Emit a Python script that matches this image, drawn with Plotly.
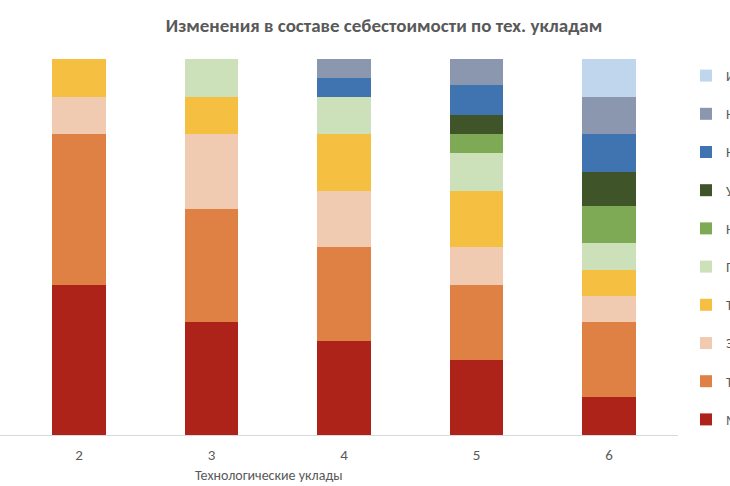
import plotly.graph_objects as go

# технологические уклады
uklady = [2, 3, 4, 5, 6]

# доли статей себестоимости, %
materialy = [40, 30, 25, 20, 10]
trud = [40, 30, 25, 20, 20]
energiya = [10, 20, 15, 10, 7]
transport = [10, 10, 15, 15, 7]
prochie = [0, 10, 10, 10, 7]
niokr = [0, 0, 0, 5, 10]
upravlenie = [0, 0, 0, 5, 9]
nematerialnye = [0, 0, 5, 8, 10]
naukoemkie = [0, 0, 5, 7, 10]
informaciya = [0, 0, 0, 0, 10]

series = [
    ("Материалы", materialy, "#AE2319"),
    ("Труд", trud, "#DF8144"),
    ("Энергия", energiya, "#F0CBB1"),
    ("Транспорт", transport, "#F5BF42"),
    ("Прочие затраты", prochie, "#CCE0BA"),
    ("НИОКР", niokr, "#7EAA56"),
    ("Услуги", upravlenie, "#3F5428"),
    ("Нематериальные активы", nematerialnye, "#3F74B0"),
    ("Наукоёмкие услуги", naukoemkie, "#8A97AE"),
    ("Информация", informaciya, "#C0D6EC"),
]

FONT = "Carlito, Liberation Sans Narrow, Roboto, sans-serif"
PLOT_H = 486 - 59 - 51

fig = go.Figure()
for i, (name, vals, color) in enumerate(series):
    fig.add_trace(go.Bar(name=name, x=uklady, y=vals, marker_color=color,
                         marker_line_width=0, width=0.405, legendgroup=str(i),
                         legendrank=100 - i))

fig.update_layout(
    width=730, height=486,
    barmode="stack",
    plot_bgcolor="white", paper_bgcolor="white",
    margin=dict(l=0, r=0, t=59, b=51, autoexpand=False),
    font=dict(family=FONT, size=13, color="#595959"),
    title=dict(text="<b>Изменения в составе себестоимости по тех. укладам</b>",
               x=384 / 730, xanchor="center", y=1 - 25 / 486, yanchor="middle",
               font=dict(size=19, color="#595959")),
    xaxis=dict(domain=[0, 678 / 730], range=[2 - 79 / 132.5, 2 + 599 / 132.5],
               tickvals=uklady, ticks="", showline=True, linecolor="#D9D9D9",
               linewidth=1, showgrid=False, zeroline=False, tickfont=dict(size=15),
               ticklabelstandoff=6),
    yaxis=dict(range=[0, 100], visible=False),
    legend=dict(x=686 / 730, xanchor="left", y=(435 - 60) / PLOT_H, yanchor="top",
                traceorder="grouped", tracegroupgap=17,
                font=dict(size=14), itemwidth=30),
    annotations=[dict(text="Технологические уклады", xref="paper", yref="paper",
                      x=269 / 730, y=(435 - 475) / PLOT_H, xanchor="center", yanchor="middle",
                      showarrow=False, font=dict(size=14, color="#595959"))],
)

fig.write_html("out.html", config={"displayModeBar": False},
               post_script="document.body.style.margin = '0';")
